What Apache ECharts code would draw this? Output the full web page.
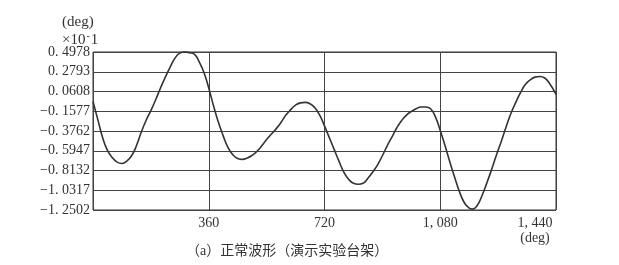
<!DOCTYPE html>
<html>
<head>
<meta charset="utf-8">
<script src="https://cdn.jsdelivr.net/npm/echarts@6/dist/echarts.min.js"></script>
<style>html,body{margin:0;padding:0;background:#fff}#c{width:619px;height:265px}</style>
</head>
<body>
<div id="c"></div>
<script>
// crank angle (deg)
var angles = [0,15,30,45,60,75,90,105,120,135,150,165,180,195,210,225,240,255,270,285,300,315,330,345,360,375,390,405,420,435,450,465,480,495,510,525,540,555,570,585,600,615,630,645,660,675,690,705,720,735,750,765,780,795,810,825,840,855,870,885,900,915,930,945,960,975,990,1005,1020,1035,1050,1065,1080,1095,1110,1125,1140,1155,1170,1180,1195,1210,1225,1240,1255,1270,1285,1300,1315,1330,1345,1360,1375,1390,1405,1420,1440];
// waveform value (deg x10^-1)
var values = [-0.05,-0.25,-0.45,-0.59,-0.67,-0.72,-0.735,-0.71,-0.65,-0.54,-0.39,-0.26,-0.15,-0.03,0.10,0.22,0.33,0.43,0.485,0.498,0.49,0.475,0.39,0.27,0.10,-0.10,-0.28,-0.43,-0.56,-0.64,-0.68,-0.69,-0.675,-0.645,-0.60,-0.54,-0.47,-0.41,-0.35,-0.28,-0.20,-0.14,-0.09,-0.065,-0.06,-0.075,-0.12,-0.20,-0.32,-0.45,-0.58,-0.71,-0.83,-0.91,-0.955,-0.966,-0.955,-0.90,-0.83,-0.75,-0.65,-0.54,-0.44,-0.34,-0.26,-0.20,-0.16,-0.13,-0.11,-0.11,-0.13,-0.22,-0.37,-0.54,-0.72,-0.89,-1.05,-1.17,-1.23,-1.24,-1.20,-1.09,-0.95,-0.80,-0.64,-0.49,-0.33,-0.18,-0.06,0.05,0.14,0.19,0.22,0.227,0.21,0.15,0.03];
// y tick values and labels
var yTicks = [-1.2502,-1.0317,-0.8132,-0.5947,-0.3762,-0.1577,0.0608,0.2793,0.4978];
var yTickLabels = ['\u22121. 2502','\u22121. 0317','\u22120. 8132','\u22120. 5947','\u22120. 3762','\u22120. 1577','0. 0608','0. 2793','0. 4978'];
// x tick labels
var xTicks = [0,360,720,1080,1440];
var xTickLabels = ['','360','720','1, 080','1, 440'];
var xUnit = '(deg)';
var caption = '\uff08a\uff09\u6b63\u5e38\u6ce2\u5f62\uff08\u6f14\u793a\u5b9e\u9a8c\u53f0\u67b6\uff09';

var data = angles.map(function(a,i){return [a, values[i]];});
var FONT = "'Liberation Serif','Noto Sans CJK SC',serif";
var chart = echarts.init(document.getElementById('c'));
chart.setOption({
  backgroundColor:'#fff',
  animation:false,
  title:[{
    text:'{a|(deg)}\n{a|\u00d710}{s|-}{a|1}',
    left:57, top:9,
    textStyle:{rich:{a:{fontFamily:FONT,fontSize:15,fontWeight:'normal',color:'#333',lineHeight:17},s:{fontFamily:FONT,fontSize:10,fontWeight:'normal',color:'#333',verticalAlign:'top',padding:[0,1,8,1]}}}
  },{
    text:caption,
    left:181, top:239,
    textStyle:{fontFamily:FONT,fontSize:14,fontWeight:'normal',color:'#333'}
  }],
  grid:{left:93,right:63,top:52,bottom:55,show:true,borderColor:'#333',borderWidth:1,backgroundColor:'transparent'},
  xAxis:{
    type:'value',min:0,max:1440,interval:360,
    axisLine:{show:false},axisTick:{show:false},
    splitLine:{show:true,lineStyle:{color:'#444',width:1}},
    axisLabel:{show:true,showMinLabel:false,alignMaxLabel:'right',margin:6,color:'#333',fontFamily:FONT,fontSize:14,lineHeight:15,
      rich:{w:{width:42,align:'center',fontFamily:FONT,fontSize:14,color:'#333',lineHeight:15}},
      formatter:function(v){var i=xTicks.indexOf(v);if(i<0)return '';if(i===xTicks.length-1)return '{w|'+xTickLabels[i]+'}\n{w|'+xUnit+'}';return xTickLabels[i];}}
  },
  yAxis:{
    type:'value',min:yTicks[0],max:yTicks[yTicks.length-1],
    axisLine:{show:false},
    axisTick:{show:false,customValues:yTicks},
    splitLine:{show:true,lineStyle:{color:'#444',width:1}},
    axisLabel:{customValues:yTicks,margin:3,color:'#333',fontFamily:FONT,fontSize:14,
      formatter:function(v){var best=0;for(var i=0;i<yTicks.length;i++){if(Math.abs(yTicks[i]-v)<Math.abs(yTicks[best]-v))best=i;}return yTickLabels[best];}}
  },
  series:[{
    type:'line',data:data,smooth:true,showSymbol:false,
    lineStyle:{color:'#333',width:1.6},
    clip:false
  }]
});
</script>
</body>
</html>
